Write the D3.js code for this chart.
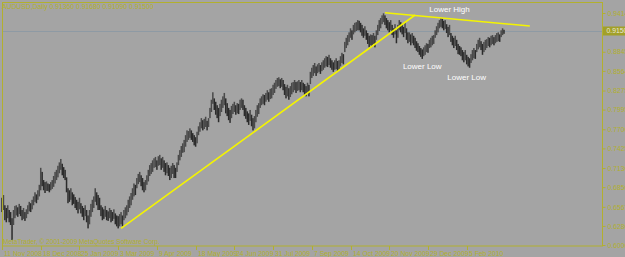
<!DOCTYPE html>
<html>
<head>
<meta charset="utf-8">
<script src="https://cdn.jsdelivr.net/npm/d3@7"></script>
<style>
html, body { margin: 0; padding: 0; background: #a4a4a4; }
svg { display: block; font-family: "Liberation Sans", Arial, sans-serif; }
</style>
</head>
<body>
<div class="main"></div>
<script>
// AUDUSD daily bars, 11 Nov 2008 .. mid Mar 2010
var high = [
0.670,0.674,0.659,0.655,0.659,0.652,0.649,0.640,0.652,0.658,
0.659,0.656,0.661,0.658,0.652,0.655,0.649,0.653,0.659,0.664,
0.662,0.667,0.672,0.678,0.675,0.681,0.689,0.714,0.708,0.696,
0.693,0.694,0.691,0.690,0.693,0.696,0.702,0.708,0.711,0.717,
0.722,0.727,0.720,0.715,0.711,0.700,0.684,0.681,0.684,0.678,
0.675,0.671,0.667,0.664,0.670,0.662,0.658,0.655,0.659,0.652,
0.644,0.652,0.661,0.667,0.672,0.684,0.678,0.674,0.670,0.659,
0.656,0.653,0.658,0.652,0.650,0.655,0.652,0.649,0.653,0.647,
0.644,0.643,0.646,0.649,0.644,0.652,0.656,0.659,0.667,0.672,
0.677,0.684,0.691,0.689,0.699,0.705,0.708,0.703,0.699,0.693,
0.696,0.703,0.711,0.718,0.721,0.725,0.728,0.730,0.725,0.731,
0.733,0.728,0.730,0.725,0.721,0.722,0.718,0.714,0.717,0.721,
0.718,0.714,0.722,0.733,0.740,0.746,0.750,0.755,0.762,0.769,
0.768,0.772,0.769,0.765,0.762,0.759,0.767,0.775,0.781,0.787,
0.784,0.786,0.789,0.783,0.787,0.802,0.814,0.825,0.816,0.811,
0.806,0.802,0.808,0.814,0.819,0.824,0.816,0.809,0.802,0.799,
0.805,0.808,0.811,0.806,0.809,0.808,0.814,0.816,0.814,0.806,
0.802,0.797,0.794,0.799,0.792,0.787,0.790,0.799,0.806,0.809,
0.816,0.819,0.822,0.821,0.824,0.828,0.825,0.830,0.831,0.836,
0.839,0.843,0.846,0.847,0.844,0.846,0.843,0.837,0.833,0.836,
0.831,0.834,0.839,0.840,0.843,0.840,0.841,0.843,0.840,0.843,
0.839,0.837,0.834,0.839,0.836,0.855,0.861,0.865,0.868,0.863,
0.866,0.868,0.865,0.869,0.872,0.875,0.878,0.877,0.880,0.875,
0.872,0.869,0.872,0.875,0.871,0.872,0.878,0.883,0.881,0.899,
0.905,0.909,0.913,0.919,0.916,0.924,0.927,0.928,0.931,0.930,
0.927,0.924,0.919,0.922,0.916,0.912,0.908,0.910,0.909,0.912,
0.908,0.916,0.924,0.931,0.934,0.938,0.941,0.938,0.934,0.931,
0.928,0.931,0.924,0.919,0.925,0.916,0.924,0.931,0.928,0.925,
0.921,0.928,0.919,0.913,0.913,0.910,0.912,0.908,0.905,0.900,
0.897,0.893,0.890,0.888,0.891,0.894,0.897,0.896,0.902,0.905,
0.908,0.909,0.916,0.922,0.927,0.931,0.934,0.933,0.930,0.931,
0.925,0.921,0.924,0.912,0.908,0.905,0.908,0.902,0.896,0.893,
0.891,0.887,0.884,0.887,0.880,0.877,0.875,0.881,0.887,0.890,
0.887,0.896,0.902,0.905,0.900,0.896,0.899,0.902,0.903,0.906,
0.905,0.908,0.909,0.906,0.909,0.912,0.913,0.910,0.916,0.919,
0.9168
];
var low = [
0.649,0.652,0.637,0.634,0.640,0.634,0.630,0.608,0.630,0.640,
0.644,0.642,0.646,0.643,0.637,0.639,0.636,0.640,0.646,0.650,
0.649,0.653,0.659,0.664,0.662,0.667,0.672,0.681,0.687,0.681,
0.677,0.680,0.680,0.678,0.681,0.683,0.686,0.691,0.696,0.700,
0.706,0.711,0.703,0.699,0.696,0.678,0.662,0.664,0.667,0.659,
0.661,0.655,0.652,0.647,0.653,0.647,0.642,0.637,0.643,0.634,
0.625,0.631,0.642,0.649,0.655,0.664,0.659,0.652,0.652,0.643,
0.637,0.639,0.642,0.637,0.636,0.640,0.634,0.636,0.639,0.631,
0.628,0.625,0.628,0.631,0.628,0.637,0.640,0.644,0.649,0.655,
0.659,0.667,0.672,0.674,0.684,0.690,0.693,0.687,0.681,0.678,
0.681,0.689,0.694,0.702,0.705,0.708,0.714,0.715,0.711,0.717,
0.718,0.711,0.714,0.708,0.703,0.706,0.702,0.696,0.699,0.705,
0.699,0.699,0.708,0.718,0.725,0.730,0.736,0.737,0.745,0.752,
0.755,0.758,0.755,0.752,0.747,0.745,0.750,0.762,0.767,0.772,
0.769,0.771,0.774,0.769,0.774,0.787,0.796,0.808,0.799,0.792,
0.787,0.781,0.790,0.796,0.802,0.806,0.794,0.790,0.784,0.780,
0.787,0.793,0.796,0.792,0.794,0.793,0.799,0.802,0.799,0.790,
0.786,0.781,0.777,0.783,0.775,0.769,0.772,0.781,0.789,0.793,
0.802,0.806,0.808,0.806,0.811,0.814,0.811,0.815,0.816,0.821,
0.824,0.830,0.833,0.834,0.831,0.833,0.828,0.821,0.816,0.819,
0.814,0.818,0.822,0.825,0.828,0.824,0.827,0.828,0.825,0.828,
0.825,0.821,0.819,0.824,0.819,0.837,0.846,0.849,0.853,0.849,
0.853,0.855,0.852,0.856,0.858,0.861,0.863,0.862,0.865,0.861,
0.858,0.855,0.858,0.859,0.856,0.858,0.863,0.868,0.866,0.884,
0.890,0.894,0.899,0.905,0.902,0.910,0.913,0.915,0.916,0.916,
0.913,0.908,0.905,0.908,0.902,0.896,0.891,0.894,0.893,0.896,
0.891,0.902,0.909,0.915,0.919,0.925,0.928,0.924,0.919,0.916,
0.913,0.916,0.909,0.905,0.910,0.897,0.905,0.916,0.913,0.910,
0.906,0.912,0.902,0.897,0.899,0.894,0.897,0.894,0.890,0.886,
0.884,0.880,0.877,0.874,0.878,0.880,0.884,0.883,0.890,0.891,
0.894,0.896,0.905,0.909,0.913,0.919,0.921,0.919,0.916,0.918,
0.912,0.906,0.909,0.899,0.894,0.890,0.893,0.887,0.881,0.880,
0.878,0.872,0.869,0.872,0.866,0.863,0.861,0.868,0.872,0.875,
0.874,0.884,0.888,0.891,0.887,0.880,0.884,0.887,0.890,0.893,
0.891,0.894,0.896,0.894,0.897,0.899,0.900,0.899,0.906,0.909,
0.9109
];

var tickBars = [0, 27, 54, 81, 108, 135, 162, 189, 216, 243, 270, 297, 324];
var tickLabels = ["11 Nov 2008", "18 Dec 2008", "25 Jan 2009", "3 Mar 2009", "9 Apr 2009",
    "18 May 2009", "24 Jun 2009", "31 Jul 2009", "7 Sep 2009", "14 Oct 2009",
    "20 Nov 2009", "29 Dec 2009", "5 Feb 2010"];
var priceTicks = [0.94145, 0.88450, 0.85645, 0.82755, 0.79950, 0.77060, 0.74255,
    0.71365, 0.68560, 0.65670, 0.62865, 0.60060];
var priceRange = [0.60060, 0.94145];
var lastPrice = 0.91500;
var title = "AUDUSD,Daily  0.91360 0.91680 0.91090 0.91500";
var copyright = "MetaTrader, \u00a9 2001-2009 MetaQuotes Software Corp.";

// trendlines: [bar, price]
var trendUp = [[83, 0.6249], [288, 0.9385]];
var trendDown = [[267, 0.9418], [368, 0.9223]];
var notes = ["Lower High", "Lower Low", "Lower Low"];
var noteBars = [312, 293, 324];
var notePrices = [0.9473, 0.8635, 0.8473];

var width = 625;
var height = 257;
var olive = "#b2b02e";

var svg = d3.select(".main")
    .append("svg")
        .attr("width", width)
        .attr("height", height);

svg.append("rect")
    .attr("width", width)
    .attr("height", height)
    .attr("fill", "#a4a4a4");

var xScale = d3.scaleLinear()
    .domain([0, 350])
    .range([2, 504]);

var yScale = d3.scaleLinear()
    .domain(priceRange)
    .range([245, 13]);

// current price line
svg.append("line")
    .attr("x1", 3).attr("x2", 602)
    .attr("y1", Math.round(yScale(lastPrice)) + 0.5)
    .attr("y2", Math.round(yScale(lastPrice)) + 0.5)
    .attr("stroke", "#8e9aa4")
    .attr("stroke-width", 1);

// bars
svg.append("g").selectAll("rect")
    .data(high)
    .enter()
    .append("rect")
    .attr("x", (d, i) => xScale(i) - 0.75)
    .attr("y", (d, i) => yScale(d))
    .attr("width", 1.5)
    .attr("height", (d, i) => Math.max(1, yScale(low[i]) - yScale(d)))
    .attr("fill", (d, i) => (i > 0 && d + low[i] > high[i - 1] + low[i - 1]) ? "#4a4a4a" : "#2c2c2c");

// trendlines
[trendUp, trendDown].forEach(t => {
    svg.append("line")
        .attr("x1", xScale(t[0][0])).attr("y1", yScale(t[0][1]))
        .attr("x2", xScale(t[1][0])).attr("y2", yScale(t[1][1]))
        .attr("stroke", "#f4f400")
        .attr("stroke-width", 1.6);
});

svg.append("g").selectAll("text")
    .data(notes)
    .enter()
    .append("text")
    .attr("x", (d, i) => xScale(noteBars[i]))
    .attr("y", (d, i) => yScale(notePrices[i]) + 3)
    .attr("text-anchor", "middle")
    .attr("font-size", "8px")
    .attr("fill", "#ffffff")
    .text(d => d);

// frame
svg.append("rect")
    .attr("x", 2.5).attr("y", 2.5)
    .attr("width", 600).attr("height", 243.5)
    .attr("fill", "none")
    .attr("stroke", olive)
    .attr("stroke-width", 1);

// price axis
var yAxis = d3.axisRight(yScale)
    .tickValues(priceTicks)
    .tickSize(3)
    .tickPadding(2)
    .tickFormat(d3.format(".5f"));

var yAxisGroup = svg.append("g")
    .attr("transform", "translate(602.5, 0)")
    .call(yAxis);
yAxisGroup.select(".domain").remove();
yAxisGroup.selectAll("line").attr("stroke", olive);
yAxisGroup.selectAll("text")
    .attr("fill", olive)
    .attr("font-size", "6.8px")
    .attr("font-family", "Liberation Sans, Arial, sans-serif");

// current price tag
var lp = svg.append("g")
    .attr("transform", "translate(603, " + yScale(lastPrice) + ")");
lp.append("rect")
    .attr("x", 0).attr("y", -4.5)
    .attr("width", 24).attr("height", 9)
    .attr("fill", "#a2a028");
lp.append("text")
    .attr("x", 3.5).attr("y", 2.4)
    .attr("font-size", "6.8px")
    .attr("fill", "#e8e8d8")
    .text(d3.format(".5f")(lastPrice));

// time axis
var xt = svg.append("g").selectAll("g")
    .data(tickBars)
    .enter()
    .append("g")
    .attr("transform", d => "translate(" + (Math.round(xScale(d)) + 0.5) + ",0)");
xt.append("line")
    .attr("y1", 246).attr("y2", 250)
    .attr("stroke", olive);
xt.append("text")
    .attr("x", 1.5).attr("y", 255.5)
    .attr("font-size", "6.8px")
    .attr("fill", olive)
    .text((d, i) => tickLabels[i]);

svg.append("text")
    .attr("x", 2).attr("y", 9)
    .attr("font-size", "6.8px")
    .attr("fill", olive)
    .text(title);

svg.append("text")
    .attr("x", 3).attr("y", 244)
    .attr("font-size", "6.5px")
    .attr("fill", olive)
    .text(copyright);
</script>
</body>
</html>
